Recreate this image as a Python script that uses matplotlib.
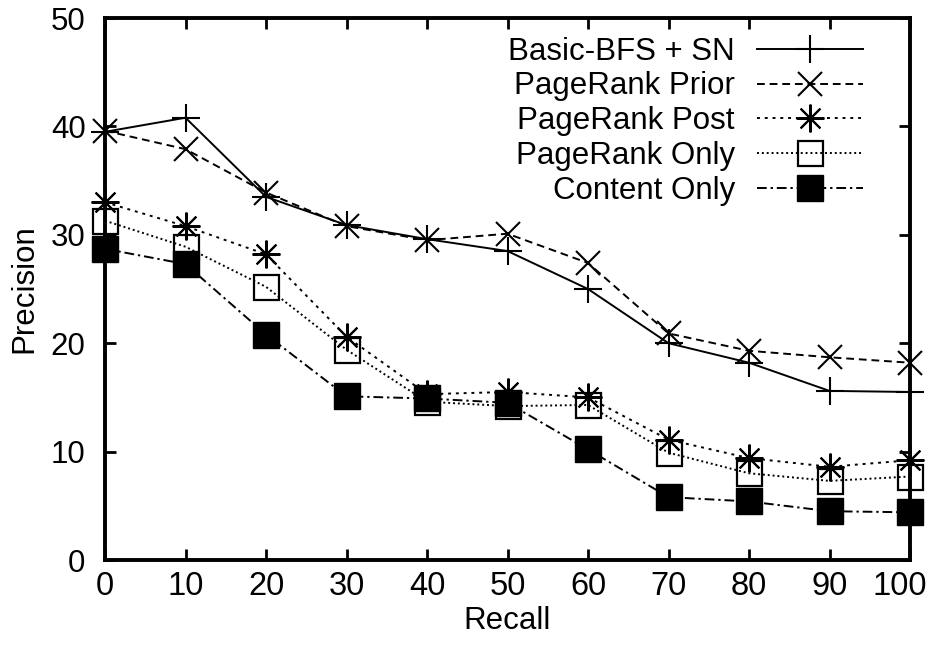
import matplotlib
matplotlib.use("Agg")
import matplotlib.pyplot as plt
from matplotlib import font_manager
import matplotlib.transforms as mtransforms

plt.rcParams['font.family'] = ['Liberation Sans', 'DejaVu Sans']

recall = [0, 10, 20, 30, 40, 50, 60, 70, 80, 90, 100]
basic_bfs_sn = [39.5, 40.8, 33.5, 30.9, 29.6, 28.5, 25.0, 20.0, 18.2, 15.6, 15.5]
pagerank_prior = [39.6, 37.9, 33.9, 30.8, 29.5, 30.1, 27.4, 20.9, 19.3, 18.7, 18.2]
pagerank_post = [33.0, 30.8, 28.2, 20.6, 15.3, 15.5, 15.0, 11.1, 9.4, 8.6, 9.2]
pagerank_only = [31.3, 28.9, 25.2, 19.4, 14.6, 14.2, 14.3, 9.9, 8.0, 7.3, 7.7]
content_only = [28.7, 27.3, 20.8, 15.1, 14.9, 14.5, 10.2, 5.8, 5.4, 4.5, 4.4]

labels = ["Basic-BFS + SN", "PageRank Prior", "PageRank Post", "PageRank Only", "Content Only"]
xticks = [0, 10, 20, 30, 40, 50, 60, 70, 80, 90, 100]
yticks = [0, 10, 20, 30, 40, 50]

names = {f.name for f in font_manager.fontManager.ttflist}
narrow = 'Liberation Sans Narrow' if 'Liberation Sans Narrow' in names else 'Liberation Sans'

FS = 22.5
fig = plt.figure(figsize=(9.3, 6.54), dpi=100)
ax = fig.add_axes([105/930, 94/654, 805/930, 542/654])

lw = 1.4
ax.plot(recall, basic_bfs_sn, color='black', lw=lw, ls='-', marker='+', ms=20, mew=1.5,
        label=labels[0], clip_on=False, zorder=3)
ax.plot(recall, pagerank_prior, color='black', lw=lw, ls=(0, (4, 2.5)), marker='x', ms=17, mew=1.5,
        label=labels[1], clip_on=False, zorder=3)
ax.plot(recall, pagerank_post, color='black', lw=lw, ls=(0, (1.5, 2.5)), marker=(8, 2, 0), ms=20, mew=1.5,
        label=labels[2], clip_on=False, zorder=3)
ax.plot(recall, pagerank_only, color='black', lw=lw, ls=(0, (1, 1.5)), marker='s', ms=18, mew=1.6,
        mfc='none', label=labels[3], clip_on=False, zorder=3)
ax.plot(recall, content_only, color='black', lw=lw, ls=(0, (5, 2, 1.2, 2)), marker='s', ms=19,
        mfc='black', label=labels[4], clip_on=False, zorder=3)

ax.set_xlim(0, 100)
ax.set_ylim(0, 50)
ax.set_xticks(xticks)
ax.set_yticks(yticks)
ax.tick_params(direction='in', length=8, width=2, top=True, right=True, labelsize=FS)
ax.tick_params(axis='y', pad=14)
ax.tick_params(axis='x', pad=8)
for lab in ax.get_xticklabels():
    lab.set_fontfamily([narrow, 'DejaVu Sans'])
    lab.set_fontsize(FS + 1)
last = ax.get_xticklabels()[-1]
last.set_transform(last.get_transform() + mtransforms.ScaledTranslation(-10/100, 0, fig.dpi_scale_trans))
for s in ax.spines.values():
    s.set_linewidth(2.8)
ax.set_xlabel("Recall", fontsize=FS, labelpad=3, fontfamily=[narrow, 'DejaVu Sans'])
ax.set_ylabel("Precision", fontsize=FS, labelpad=8)

leg = ax.legend(loc='upper right', frameon=False, markerfirst=False, fontsize=FS,
                handlelength=3.4, handletextpad=0.7, labelspacing=0.15,
                borderaxespad=0.2, bbox_to_anchor=(0.965, 1.0))

fig.savefig("out.png", dpi=100)
